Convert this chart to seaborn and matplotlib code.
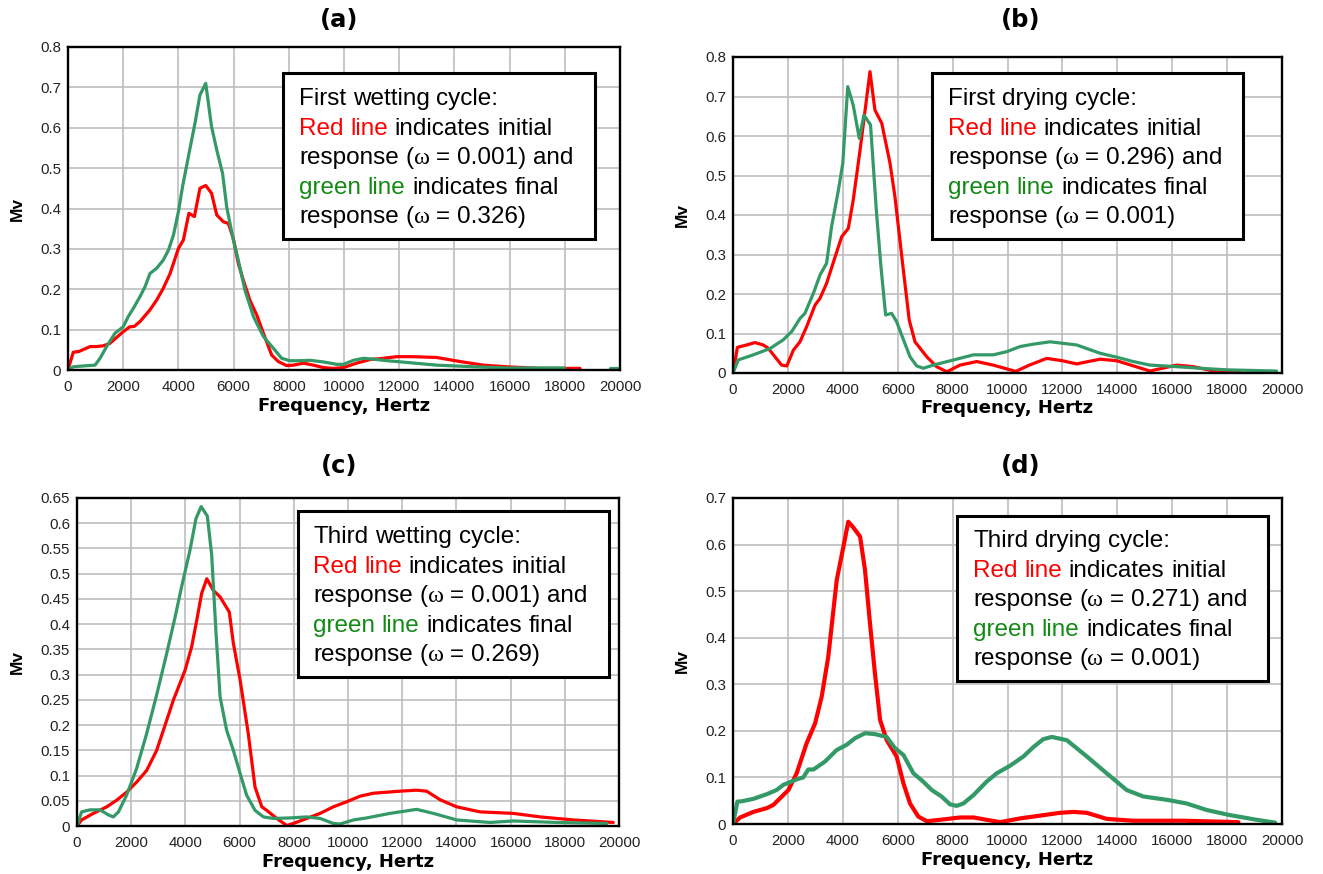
import numpy as np
import matplotlib
matplotlib.use('Agg')
import matplotlib.pyplot as plt
import matplotlib.patches as mpatches
from matplotlib.ticker import FuncFormatter
import seaborn as sns

# ---------------- data ----------------
x_ticks = [0, 2000, 4000, 6000, 8000, 10000, 12000, 14000, 16000, 18000, 20000]

# (a) First wetting cycle
a_red_f = [0, 190, 400, 800, 1040, 1280, 1520, 2000, 2240, 2400, 2610, 2970, 3210, 3450, 3700, 3820, 4000,
           4180, 4380, 4580, 4780, 4990, 5200, 5390, 5630, 5810, 5990, 6170, 6350, 6590, 6840, 7080, 7380,
           7620, 7920, 8170, 8530, 8890, 9250, 9610, 9980, 10460, 10950, 11430, 11910, 12500, 13360, 14200,
           15050, 15890, 17100, 18550]
a_red_v = [0, 0.044, 0.046, 0.058, 0.058, 0.060, 0.066, 0.095, 0.107, 0.108, 0.120, 0.149, 0.173, 0.202, 0.239,
           0.264, 0.301, 0.322, 0.388, 0.380, 0.450, 0.457, 0.438, 0.384, 0.367, 0.363, 0.326, 0.264, 0.223,
           0.173, 0.136, 0.091, 0.037, 0.021, 0.011, 0.012, 0.017, 0.012, 0.006, 0.004, 0.006, 0.017, 0.026,
           0.029, 0.033, 0.033, 0.031, 0.021, 0.012, 0.008, 0.004, 0.004]
a_green_f = [0, 190, 560, 980, 1160, 1400, 1700, 2000, 2180, 2370, 2610, 2790, 2970, 3210, 3450, 3640, 3820,
             4000, 4150, 4360, 4600, 4780, 4990, 5200, 5390, 5600, 5750, 5990, 6170, 6410, 6720, 7080, 7440,
             7740, 8040, 8410, 8770, 9250, 9740, 9980, 10340, 10700, 11060, 11550, 11910, 13360, 14690,
             15890, 17100, 18000]
a_green_v = [0, 0.008, 0.010, 0.012, 0.029, 0.058, 0.091, 0.107, 0.132, 0.153, 0.182, 0.206, 0.239, 0.252,
             0.272, 0.297, 0.334, 0.392, 0.454, 0.528, 0.611, 0.681, 0.710, 0.603, 0.545, 0.487, 0.404, 0.322,
             0.272, 0.198, 0.132, 0.083, 0.054, 0.029, 0.023, 0.023, 0.024, 0.020, 0.014, 0.014, 0.024, 0.029,
             0.027, 0.023, 0.021, 0.012, 0.008, 0.005, 0.005, 0.005]
a_green_tail_f = [19650, 19950]
a_green_tail_v = [0.004, 0.004]

# (b) First drying cycle
b_red_f = [0, 160, 500, 800, 1100, 1280, 1530, 1770, 1960, 2200, 2440, 2680, 2990, 3170, 3410, 3720, 3960,
           4200, 4380, 4630, 4990, 5170, 5420, 5720, 5900, 6150, 6420, 6630, 7060, 7420, 7790, 8270, 8880,
           9480, 10300, 10800, 11430, 12000, 12520, 13370, 13980, 15190, 16160, 16770, 17500, 18470]
b_red_v = [0, 0.065, 0.071, 0.077, 0.071, 0.063, 0.041, 0.020, 0.018, 0.058, 0.079, 0.117, 0.172, 0.189,
           0.227, 0.294, 0.345, 0.366, 0.438, 0.565, 0.763, 0.666, 0.632, 0.531, 0.446, 0.294, 0.134, 0.079,
           0.041, 0.016, 0.003, 0.020, 0.029, 0.020, 0.004, 0.020, 0.037, 0.031, 0.023, 0.035, 0.031, 0.005,
           0.020, 0.016, 0.005, 0.003]
b_green_f = [0, 190, 740, 1350, 1830, 2140, 2440, 2620, 2930, 3170, 3410, 3590, 3840, 4000, 4180, 4380, 4600,
             4770, 5010, 5230, 5390, 5560, 5780, 5960, 6210, 6450, 6690, 6930, 7300, 8030, 8760, 9480, 9970,
             10460, 10940, 11550, 12520, 13370, 13980, 14580, 15190, 16160, 17010, 17990, 19800]
b_green_v = [0, 0.033, 0.046, 0.062, 0.084, 0.105, 0.138, 0.151, 0.202, 0.248, 0.278, 0.370, 0.463, 0.531,
             0.725, 0.678, 0.594, 0.653, 0.628, 0.404, 0.269, 0.147, 0.151, 0.130, 0.084, 0.041, 0.018, 0.012,
             0.020, 0.033, 0.046, 0.046, 0.054, 0.067, 0.073, 0.079, 0.071, 0.050, 0.040, 0.029, 0.020, 0.016,
             0.012, 0.008, 0.005]

# (c) Third wetting cycle
c_red_f = [0, 170, 600, 1100, 1460, 1830, 2200, 2570, 2940, 3190, 3560, 3990, 4230, 4420, 4600, 4790, 5030,
           5280, 5620, 5770, 6020, 6320, 6570, 6820, 7000, 7370, 7740, 7980, 8480, 8970, 9460, 9950, 10440,
           10940, 11920, 12530, 12900, 13400, 14010, 14870, 16100, 17090, 18320, 19790]
c_red_v = [0, 0.012, 0.025, 0.038, 0.051, 0.067, 0.087, 0.110, 0.150, 0.190, 0.250, 0.309, 0.355, 0.408,
           0.461, 0.490, 0.467, 0.454, 0.424, 0.362, 0.289, 0.183, 0.077, 0.038, 0.031, 0.015, 0.001, 0.005,
           0.015, 0.025, 0.038, 0.048, 0.059, 0.065, 0.069, 0.071, 0.069, 0.052, 0.038, 0.028, 0.025, 0.018,
           0.012, 0.007]
c_green_f = [0, 170, 480, 850, 1160, 1340, 1530, 1830, 2200, 2570, 2940, 3310, 3620, 3860, 4170, 4390, 4580,
             4810, 4970, 5130, 5280, 5520, 5770, 6020, 6260, 6570, 6880, 7250, 7860, 8480, 8970, 9460, 9710,
             10200, 10690, 11550, 12530, 13150, 14010, 15240, 16100, 17700, 19550]
c_green_v = [0, 0.028, 0.032, 0.032, 0.022, 0.018, 0.028, 0.061, 0.114, 0.183, 0.260, 0.342, 0.414, 0.474,
             0.547, 0.609, 0.633, 0.614, 0.537, 0.382, 0.256, 0.190, 0.150, 0.104, 0.061, 0.031, 0.018, 0.015,
             0.016, 0.018, 0.015, 0.005, 0.004, 0.012, 0.016, 0.025, 0.033, 0.025, 0.012, 0.007, 0.010, 0.007,
             0.005]

# (d) Third drying cycle
d_red_f = [0, 260, 740, 1230, 1470, 1710, 2020, 2320, 2680, 2990, 3230, 3470, 3780, 4020, 4200, 4380, 4630,
           4810, 4990, 5170, 5360, 5600, 5960, 6210, 6450, 6750, 7060, 7540, 8270, 8760, 9240, 9730, 10460,
           11310, 11910, 12400, 12890, 13610, 14580, 16410, 18410]
d_red_v = [0, 0.014, 0.026, 0.034, 0.041, 0.055, 0.073, 0.109, 0.173, 0.216, 0.273, 0.359, 0.524, 0.595,
           0.649, 0.637, 0.617, 0.545, 0.431, 0.324, 0.223, 0.180, 0.145, 0.087, 0.044, 0.016, 0.006, 0.009,
           0.014, 0.014, 0.009, 0.004, 0.012, 0.019, 0.024, 0.026, 0.024, 0.011, 0.007, 0.007, 0.004]
d_green_f = [0, 160, 340, 740, 1230, 1590, 1830, 2080, 2380, 2560, 2740, 2930, 3350, 3780, 4140, 4440, 4810,
             5170, 5600, 5900, 6210, 6570, 6930, 7240, 7600, 7910, 8150, 8390, 8760, 9240, 9610, 10090, 10580,
             10940, 11300, 11610, 12160, 12890, 13610, 14340, 14950, 15800, 16530, 17260, 18110, 19080, 19750]
d_green_v = [0, 0.048, 0.049, 0.054, 0.064, 0.073, 0.084, 0.090, 0.097, 0.100, 0.117, 0.117, 0.134, 0.159,
             0.170, 0.184, 0.195, 0.193, 0.187, 0.163, 0.148, 0.109, 0.091, 0.073, 0.059, 0.042, 0.039, 0.044,
             0.062, 0.091, 0.109, 0.125, 0.145, 0.165, 0.182, 0.187, 0.180, 0.145, 0.109, 0.073, 0.059, 0.052,
             0.044, 0.030, 0.019, 0.009, 0.003]

titles = ['(a)', '(b)', '(c)', '(d)']
cycle_names = ['First wetting cycle:', 'First drying cycle:', 'Third wetting cycle:', 'Third drying cycle:']
omega_initial = ['0.001', '0.296', '0.001', '0.271']
omega_final = ['0.326', '0.001', '0.269', '0.001']
y_max = [0.8, 0.8, 0.65, 0.7]
y_step = [0.1, 0.1, 0.05, 0.1]
x_label = 'Frequency, Hertz'
y_label = 'Mv'

# ---------------- style ----------------
sns.set_style('white')
plt.rcParams['font.family'] = ['Liberation Sans', 'DejaVu Sans']
plt.rcParams['text.color'] = 'black'
plt.rcParams['axes.labelcolor'] = 'black'

RED = '#ff0000'
GREEN_LINE = '#339966'
GREEN_TEXT = '#138a13'
BLACK = '#000000'
SERIF = 'Liberation Serif'
SANS = 'Liberation Sans'

W, H = 1323, 874
fig = plt.figure(figsize=(W / 100, H / 100), dpi=100)


def fx(px):
    return px / W


def fy(py):
    return 1 - py / H


layout = [
    dict(ax=(68, 47, 620, 370), title=(339, 20), xlab=411, ylab=17,
         box=(283, 73, 595, 239), tx=299, tb=105, lw=2.3),
    dict(ax=(733, 57, 1282, 373), title=(1021, 20), xlab=413, ylab=682,
         box=(932, 73, 1243, 239), tx=948, tb=105, lw=2.3),
    dict(ax=(77, 498, 619, 826), title=(339, 466), xlab=867, ylab=17,
         box=(298, 511, 609, 677), tx=313, tb=543, lw=2.3),
    dict(ax=(733, 498, 1282, 824), title=(1021, 466), xlab=865, ylab=682,
         box=(957, 516, 1268, 681), tx=973, tb=547, lw=3.0),
]
series = [
    (a_red_f, a_red_v, a_green_f, a_green_v),
    (b_red_f, b_red_v, b_green_f, b_green_v),
    (c_red_f, c_red_v, c_green_f, c_green_v),
    (d_red_f, d_red_v, d_green_f, d_green_v),
]

fmt = FuncFormatter(lambda v, _: f'{v:g}')

for i, (lay, ser) in enumerate(zip(layout, series)):
    l, t, r, b = lay['ax']
    ax = fig.add_axes([fx(l), fy(b), (r - l) / W, (b - t) / H])
    rf, rv, gf, gv = ser
    sns.lineplot(x=rf, y=rv, ax=ax, color=RED, linewidth=lay['lw'], estimator=None, sort=False, legend=False)
    sns.lineplot(x=gf, y=gv, ax=ax, color=GREEN_LINE, linewidth=lay['lw'], estimator=None, sort=False,
                 legend=False)
    if i == 0:
        sns.lineplot(x=a_green_tail_f, y=a_green_tail_v, ax=ax, color=GREEN_LINE, linewidth=lay['lw'],
                     estimator=None, sort=False, legend=False)
    ax.set_xlim(0, 20000)
    ax.set_ylim(0, y_max[i])
    ax.set_xticks(x_ticks)
    ax.set_xticklabels([str(v) for v in x_ticks])
    yt = np.round(np.arange(0, y_max[i] + 1e-9, y_step[i]), 3)
    ax.set_yticks(yt)
    ax.yaxis.set_major_formatter(fmt)
    ax.grid(True, color='#bdbdbd', linewidth=1.2)
    ax.set_axisbelow(True)
    for sp in ax.spines.values():
        sp.set_color('black')
        sp.set_linewidth(1.7)
        sp.set_visible(True)
    ax.tick_params(axis='both', length=0, labelsize=10.8, colors='#222222')
    ax.tick_params(axis='x', pad=7.5)
    ax.tick_params(axis='y', pad=5)
    for lab in ax.get_xticklabels() + ax.get_yticklabels():
        lab.set_family(SANS)

    hpx = b - t
    wpx = r - l
    ax.set_xlabel(x_label, fontsize=13, fontweight='bold', family='DejaVu Sans', va='baseline', color='black')
    ax.xaxis.set_label_coords(0.5, (b - lay['xlab']) / hpx)
    ax.set_ylabel(y_label, fontsize=12.5, fontweight='bold', family=SANS, va='center', color='black')
    ax.yaxis.set_label_coords((lay['ylab'] - l) / wpx, 0.5)

    tcx, tcy = lay['title']
    ax.set_title(titles[i], fontsize=17.5, fontweight='bold', family='DejaVu Sans', color='black',
                 x=(tcx - l) / wpx, y=(b - tcy) / hpx, va='center', pad=0)

# ---------------- annotation boxes ----------------
renderer = fig.canvas.get_renderer()
BOX_FS = 17.5


def text_width(s, family):
    tt = fig.text(0, 0, s, fontsize=BOX_FS, family=family)
    w = tt.get_window_extent(renderer).width
    tt.remove()
    return w


space_w = {f: text_width('x x', f) - text_width('xx', f) for f in (SANS, SERIF)}

for i, lay in enumerate(layout):
    x0, y0, x1, y1 = lay['box']
    rect = mpatches.Rectangle((fx(x0), fy(y1)), (x1 - x0) / W, (y1 - y0) / H, transform=fig.transFigure,
                              facecolor='white', edgecolor='black', linewidth=2.2, zorder=4)
    fig.add_artist(rect)
    lines = [
        [(cycle_names[i], BLACK, SANS)],
        [('Red line', RED, SANS), (' indicates initial', BLACK, SANS)],
        [('response (', BLACK, SANS), ('\u03c9', BLACK, SERIF), (f' = {omega_initial[i]}) and', BLACK, SANS)],
        [('green line', GREEN_TEXT, SANS), (' indicates final', BLACK, SANS)],
        [('response (', BLACK, SANS), ('\u03c9', BLACK, SERIF), (f' = {omega_final[i]})', BLACK, SANS)],
    ]
    for k, line in enumerate(lines):
        base = lay['tb'] + k * 29.6
        x = lay['tx']
        for text, col, fam in line:
            parts = text.split(' ')
            for j, p in enumerate(parts):
                if j > 0:
                    x += space_w[fam]
                if p:
                    fig.text(fx(x), fy(base), p, fontsize=BOX_FS, family=fam, color=col,
                             ha='left', va='baseline', zorder=5)
                    x += text_width(p, fam)

fig.savefig('out.png', dpi=100, facecolor='white')
